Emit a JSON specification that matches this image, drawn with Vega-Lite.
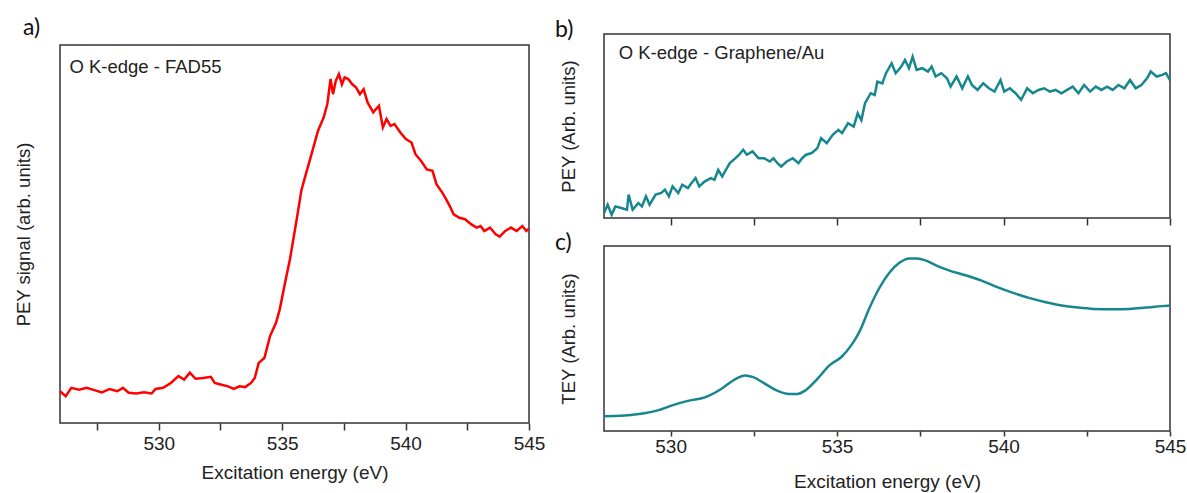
{
"$schema": "https://vega.github.io/schema/vega-lite/v6.json",
"padding": {"left": 13, "top": 16, "right": 0, "bottom": 0},
"config": {"view": {"stroke": "#333", "strokeWidth": 1.5}, "font": "Liberation Sans", "axis": {"labelFont": "Liberation Sans", "titleFont": "Liberation Sans"}, "text": {"font": "Liberation Sans"}},
"datasets": {
"a": [{"e":526.0,"v":8.4},{"e":526.23,"v":7.1},{"e":526.46,"v":9.3},{"e":526.77,"v":8.8},{"e":527.08,"v":9.3},{"e":527.39,"v":8.7},{"e":527.7,"v":8.1},{"e":528.01,"v":9.0},{"e":528.32,"v":8.4},{"e":528.55,"v":9.3},{"e":528.78,"v":8.0},{"e":529.09,"v":7.8},{"e":529.4,"v":8.1},{"e":529.71,"v":7.8},{"e":529.87,"v":9.0},{"e":530.18,"v":9.3},{"e":530.49,"v":10.6},{"e":530.8,"v":12.4},{"e":531.03,"v":11.5},{"e":531.26,"v":13.3},{"e":531.49,"v":11.7},{"e":531.8,"v":11.9},{"e":532.11,"v":12.2},{"e":532.27,"v":10.6},{"e":532.5,"v":10.2},{"e":532.81,"v":9.7},{"e":533.04,"v":9.0},{"e":533.27,"v":9.7},{"e":533.5,"v":9.5},{"e":533.74,"v":10.6},{"e":533.89,"v":11.9},{"e":534.05,"v":15.9},{"e":534.28,"v":17.2},{"e":534.51,"v":23.0},{"e":534.75,"v":26.5},{"e":534.9,"v":30.0},{"e":535.13,"v":37.5},{"e":535.31,"v":43.1},{"e":535.59,"v":53.9},{"e":535.78,"v":61.6},{"e":535.98,"v":66.3},{"e":536.21,"v":71.6},{"e":536.45,"v":77.3},{"e":536.68,"v":80.8},{"e":536.83,"v":84.4},{"e":536.96,"v":91.0},{"e":537.06,"v":87.0},{"e":537.17,"v":90.5},{"e":537.3,"v":92.3},{"e":537.42,"v":89.6},{"e":537.53,"v":91.4},{"e":537.68,"v":91.0},{"e":537.84,"v":89.6},{"e":537.99,"v":88.8},{"e":538.15,"v":87.0},{"e":538.3,"v":88.3},{"e":538.46,"v":84.8},{"e":538.69,"v":82.2},{"e":538.92,"v":83.9},{"e":539.08,"v":78.2},{"e":539.23,"v":80.4},{"e":539.39,"v":78.6},{"e":539.55,"v":79.1},{"e":539.78,"v":76.9},{"e":540.01,"v":75.1},{"e":540.24,"v":74.2},{"e":540.4,"v":71.1},{"e":540.63,"v":69.3},{"e":540.86,"v":67.1},{"e":541.09,"v":66.7},{"e":541.25,"v":63.2},{"e":541.48,"v":61.0},{"e":541.64,"v":59.2},{"e":541.79,"v":57.4},{"e":541.95,"v":55.2},{"e":542.18,"v":54.3},{"e":542.41,"v":53.9},{"e":542.65,"v":52.6},{"e":542.88,"v":51.7},{"e":543.04,"v":52.1},{"e":543.19,"v":50.8},{"e":543.42,"v":51.7},{"e":543.65,"v":49.9},{"e":543.81,"v":49.3},{"e":544.04,"v":50.8},{"e":544.27,"v":51.7},{"e":544.5,"v":50.8},{"e":544.73,"v":52.1},{"e":544.89,"v":50.8},{"e":545.0,"v":51.4}],
"b": [{"e":528.0,"v":2.7},{"e":528.11,"v":7.2},{"e":528.23,"v":1.8},{"e":528.34,"v":6.3},{"e":528.52,"v":5.4},{"e":528.69,"v":4.5},{"e":528.74,"v":12.7},{"e":528.86,"v":4.5},{"e":529.03,"v":8.1},{"e":529.14,"v":6.3},{"e":529.26,"v":11.8},{"e":529.37,"v":7.2},{"e":529.55,"v":12.7},{"e":529.72,"v":13.6},{"e":529.83,"v":15.4},{"e":529.95,"v":11.8},{"e":530.06,"v":17.2},{"e":530.23,"v":13.6},{"e":530.35,"v":18.1},{"e":530.52,"v":16.3},{"e":530.63,"v":19.0},{"e":530.75,"v":21.7},{"e":530.86,"v":17.2},{"e":531.03,"v":19.9},{"e":531.21,"v":21.7},{"e":531.32,"v":20.8},{"e":531.43,"v":26.2},{"e":531.55,"v":22.6},{"e":531.66,"v":26.2},{"e":531.78,"v":29.8},{"e":531.95,"v":32.5},{"e":532.06,"v":34.4},{"e":532.18,"v":37.1},{"e":532.29,"v":34.4},{"e":532.46,"v":36.2},{"e":532.64,"v":32.5},{"e":532.81,"v":32.5},{"e":532.98,"v":30.7},{"e":533.09,"v":32.5},{"e":533.21,"v":29.8},{"e":533.32,"v":28.0},{"e":533.49,"v":30.7},{"e":533.67,"v":32.5},{"e":533.84,"v":29.8},{"e":533.95,"v":32.5},{"e":534.07,"v":34.4},{"e":534.24,"v":35.3},{"e":534.41,"v":38.0},{"e":534.52,"v":43.4},{"e":534.69,"v":40.7},{"e":534.87,"v":45.2},{"e":535.04,"v":47.9},{"e":535.15,"v":46.1},{"e":535.33,"v":51.5},{"e":535.5,"v":49.7},{"e":535.62,"v":56.9},{"e":535.73,"v":53.2},{"e":535.84,"v":62.4},{"e":536.01,"v":67.8},{"e":536.13,"v":66.9},{"e":536.21,"v":74.1},{"e":536.36,"v":73.2},{"e":536.47,"v":78.7},{"e":536.64,"v":84.1},{"e":536.76,"v":78.7},{"e":536.93,"v":82.3},{"e":537.04,"v":85.9},{"e":537.16,"v":81.4},{"e":537.27,"v":87.7},{"e":537.39,"v":80.5},{"e":537.56,"v":81.4},{"e":537.73,"v":79.6},{"e":537.84,"v":82.3},{"e":537.96,"v":76.9},{"e":538.13,"v":78.7},{"e":538.3,"v":75.9},{"e":538.41,"v":71.4},{"e":538.59,"v":76.9},{"e":538.76,"v":70.5},{"e":538.93,"v":76.9},{"e":539.05,"v":72.3},{"e":539.22,"v":69.6},{"e":539.39,"v":73.2},{"e":539.56,"v":70.5},{"e":539.73,"v":68.7},{"e":539.91,"v":75.0},{"e":540.02,"v":68.7},{"e":540.19,"v":70.5},{"e":540.36,"v":67.8},{"e":540.53,"v":64.2},{"e":540.71,"v":70.5},{"e":540.88,"v":67.8},{"e":541.05,"v":69.6},{"e":541.22,"v":70.5},{"e":541.39,"v":68.7},{"e":541.56,"v":69.6},{"e":541.74,"v":67.8},{"e":541.91,"v":69.6},{"e":542.08,"v":71.4},{"e":542.25,"v":67.8},{"e":542.42,"v":72.3},{"e":542.6,"v":68.7},{"e":542.77,"v":71.4},{"e":542.94,"v":69.6},{"e":543.11,"v":71.4},{"e":543.28,"v":69.6},{"e":543.45,"v":72.3},{"e":543.63,"v":70.5},{"e":543.8,"v":75.0},{"e":543.97,"v":70.5},{"e":544.14,"v":72.3},{"e":544.31,"v":75.9},{"e":544.42,"v":79.6},{"e":544.6,"v":76.9},{"e":544.77,"v":77.8},{"e":544.88,"v":78.7},{"e":545.0,"v":75.0}],
"c": [{"e":528.0,"v":8.0},{"e":528.51,"v":8.2},{"e":529.11,"v":9.3},{"e":529.59,"v":11.0},{"e":530.07,"v":14.0},{"e":530.55,"v":16.4},{"e":531.03,"v":18.2},{"e":531.52,"v":22.7},{"e":531.88,"v":27.3},{"e":532.24,"v":30.0},{"e":532.48,"v":29.1},{"e":532.84,"v":25.5},{"e":533.2,"v":21.8},{"e":533.56,"v":20.0},{"e":533.8,"v":20.0},{"e":534.04,"v":21.8},{"e":534.41,"v":28.2},{"e":534.77,"v":35.5},{"e":535.13,"v":40.0},{"e":535.43,"v":46.4},{"e":535.67,"v":53.6},{"e":535.97,"v":66.4},{"e":536.27,"v":77.3},{"e":536.57,"v":85.5},{"e":536.87,"v":90.9},{"e":537.17,"v":93.3},{"e":537.41,"v":93.3},{"e":537.66,"v":92.2},{"e":538.02,"v":89.1},{"e":538.38,"v":86.7},{"e":538.86,"v":84.2},{"e":539.34,"v":81.3},{"e":539.83,"v":77.6},{"e":540.31,"v":74.5},{"e":540.79,"v":71.8},{"e":541.27,"v":69.6},{"e":541.75,"v":67.8},{"e":542.23,"v":66.7},{"e":542.71,"v":66.0},{"e":543.31,"v":65.8},{"e":543.79,"v":66.0},{"e":544.27,"v":66.7},{"e":544.76,"v":67.5},{"e":545.0,"v":67.8}]
},
"spacing": 8,
"hconcat": [
{
"spacing": 4,
"vconcat": [
{
"width": 469, "height": 1,
"view": {"stroke": null},
"title": {"text": "a)", "anchor": "start", "frame": "group", "dx": -37, "offset": -8, "font": "Lato", "fontSize": 23, "fontWeight": "normal", "color": "#111"},
"data": {"values": [{}]},
"mark": {"type": "point", "opacity": 0},
"encoding": {}
},
{
"width": 469, "height": 378,
"layer": [
{"data": {"name": "a"}, "mark": {"type": "line", "color": "#ff0000", "strokeWidth": 2.5, "clip": true},
"encoding": {
"x": {"field": "e", "type": "quantitative", "scale": {"domain": [526, 545], "nice": false, "zero": false}, "title": "Excitation energy (eV)",
"axis": {"values": [527.5, 530, 532.5, 535, 537.5, 540, 542.5, 545], "labelExpr": "datum.value % 5 === 0 ? datum.label : ''", "labelOverlap": false, "labelFlush": false, "domain": false, "grid": false, "tickSize": 7, "tickColor": "#333", "tickWidth": 1.5, "labelFontSize": 19, "labelColor": "#222", "labelPadding": 4, "titleFontSize": 19, "titleFontWeight": "normal", "titleColor": "#222", "titlePadding": 10}},
"y": {"field": "v", "type": "quantitative", "scale": {"domain": [0, 100], "nice": false, "zero": false}, "title": "PEY signal (arb. units)",
"axis": {"labels": false, "ticks": false, "domain": false, "grid": false, "titleFontSize": 18.5, "titleFontWeight": "normal", "titleColor": "#222", "titlePadding": 27}}
}},
{"data": {"values": [{}]}, "mark": {"type": "text", "align": "left", "baseline": "middle", "fontSize": 18.5, "color": "#222"},
"encoding": {"x": {"datum": 526.38}, "y": {"datum": 94.2}, "text": {"value": "O K-edge - FAD55"}}}
]
}
]
},
{
"spacing": 4,
"vconcat": [
{
"width": 566, "height": 184,
"title": {"text": "b)", "anchor": "start", "frame": "bounds", "dx": -4, "offset": -8, "font": "Lato", "fontSize": 23, "fontWeight": "normal", "color": "#111"},
"layer": [
{"data": {"name": "b"}, "mark": {"type": "line", "color": "#17878f", "strokeWidth": 2.5, "clip": true},
"encoding": {
"x": {"field": "e", "type": "quantitative", "scale": {"domain": [528, 545], "nice": false, "zero": false}, "title": null,
"axis": {"values": [530, 532.5, 535, 537.5, 540, 542.5, 545], "labels": false, "domain": false, "grid": false, "tickSize": 7, "tickColor": "#333", "tickWidth": 1.5}},
"y": {"field": "v", "type": "quantitative", "scale": {"domain": [0, 100], "nice": false, "zero": false}, "title": "PEY (Arb. units)",
"axis": {"labels": false, "ticks": false, "domain": false, "grid": false, "titleFontSize": 18.5, "titleFontWeight": "normal", "titleColor": "#222", "titlePadding": 26}}
}},
{"data": {"values": [{}]}, "mark": {"type": "text", "align": "left", "baseline": "middle", "fontSize": 18.5, "color": "#222"},
"encoding": {"x": {"datum": 528.44}, "y": {"datum": 89.7}, "text": {"value": "O K-edge - Graphene/Au"}}}
]
},
{
"width": 566, "height": 185,
"title": {"text": "c)", "anchor": "start", "frame": "bounds", "dx": -4, "offset": -9, "font": "Lato", "fontSize": 23, "fontWeight": "normal", "color": "#111"},
"data": {"name": "c"},
"mark": {"type": "line", "color": "#17878f", "strokeWidth": 2.5, "clip": true, "interpolate": "monotone"},
"encoding": {
"x": {"field": "e", "type": "quantitative", "scale": {"domain": [528, 545], "nice": false, "zero": false}, "title": "Excitation energy (eV)",
"axis": {"values": [530, 532.5, 535, 537.5, 540, 542.5, 545], "labelExpr": "datum.value % 5 === 0 ? datum.label : ''", "labelOverlap": false, "labelFlush": false, "domain": false, "grid": false, "tickSize": 5, "tickColor": "#333", "tickWidth": 1.5, "labelFontSize": 19, "labelColor": "#222", "labelPadding": 1, "titleFontSize": 19, "titleFontWeight": "normal", "titleColor": "#222", "titlePadding": 16}},
"y": {"field": "v", "type": "quantitative", "scale": {"domain": [0, 100], "nice": false, "zero": false}, "title": "TEY (Arb. units)",
"axis": {"labels": false, "ticks": false, "domain": false, "grid": false, "titleFontSize": 18.5, "titleFontWeight": "normal", "titleColor": "#222", "titlePadding": 26}}
}
}
]
}
]
}
